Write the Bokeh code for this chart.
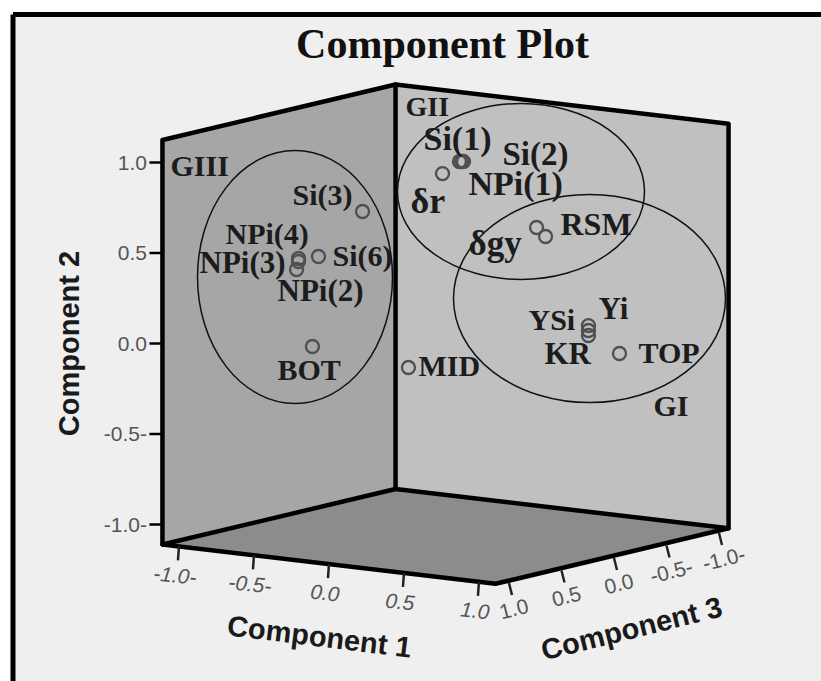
from math import radians
from bokeh.plotting import figure
from bokeh.models import Range1d, ColumnDataSource
from bokeh.core.properties import value
from bokeh.embed import file_html
from bokeh.resources import INLINE

# ---- data: component loadings
point_names = ["Si(1)", "Si(2)", "NPi(1)", "δr", "δgy", "RSM", "Yi", "YSi", "KR", "TOP",
               "MID", "BOT", "Si(3)", "Si(6)", "NPi(4)", "NPi(3)", "NPi(2)"]
comp1 = [0.023, 0.037, 0.050, -0.090, 0.397, 0.457, 0.743, 0.743, 0.743, 0.950,
         -0.177, -0.537, -0.343, -0.497, -0.630, -0.630, -0.643]
comp2 = [0.950, 0.951, 0.952, 0.872, 0.594, 0.550, 0.086, 0.059, 0.031, -0.048,
         -0.180, -0.044, 0.693, 0.457, 0.433, 0.416, 0.371]
comp3 = [-0.1, -0.1, -0.1, -0.1, -0.3, -0.3, -0.3, -0.3, -0.3, -0.3,
         0.1, 0.5, 0.3, 0.5, 0.5, 0.5, 0.5]

tick_values = [-1.0, -0.5, 0.0, 0.5, 1.0]
comp2_tick_labels = ["-1.0-", "-0.5-", "0.0", "0.5", "1.0"]
comp1_tick_labels = ["-1.0-", "-0.5-", "0.0", "0.5", "1.0"]
comp3_tick_labels = ["-1.0-", "-0.5-", "0.0", "0.5", "1.0"]

# ---- annotation text placed by hand (left edge, baseline, in page pixels)
label_text = ["GIII", "Si(3)", "NPi(4)", "NPi(3)", "Si(6)", "NPi(2)", "BOT", "GII", "Si(1)", "Si(2)",
              "NPi(1)", "δr", "δgy", "RSM", "Yi", "YSi", "KR", "TOP", "MID", "GI"]
label_x = [170, 292, 225, 199, 332, 277, 277, 405, 423, 502, 468, 410, 468, 560, 598, 528, 544, 638, 418, 653]
label_y = [175, 204, 243, 272, 265, 300, 379, 116, 148, 163, 193, 210, 253, 233, 318, 329, 363, 362, 375, 415]
label_size = ["30px", "30px", "30px", "31px", "30px", "31px", "30px", "28px", "34px", "33px",
              "34px", "36px", "35px", "32px", "31px", "30px", "31px", "30px", "30px", "30px"]

# ---- hand-drawn group ellipses
ell_x = [294.5, 520.5, 589]
ell_y = [276.5, 191, 298]
ell_w = [195, 247, 272]
ell_h = [253, 176, 208]

# ---- oblique projection of the 3D box onto the page
LIM = 1.11
TOP = 1.125


def px(c1, c3):
    return 445 + 150 * c1 - 105 * c3


def py(c1, c2, c3):
    return 335 + 17.7 * c1 + 25 * c3 - 181 * c2


def corner(c1, c2, c3):
    return px(c1, c3), py(c1, c2, c3)


p = figure(width=821, height=681, x_range=Range1d(0, 821), y_range=Range1d(681, 0),
           toolbar_location=None, output_backend="svg", min_border=0,
           x_axis_location=None, y_axis_location=None)
p.outline_line_color = None
p.grid.visible = False
p.background_fill_color = "#ffffff"
p.border_fill_color = "#ffffff"

# panel background and its black frame
p.quad(left=12, right=821, top=14, bottom=681, fill_color="#efefef", line_color=None)
p.line([12.5, 821], [14, 14], line_color="#000000", line_width=5)
p.line([12.5, 12.5], [14, 681], line_color="#000000", line_width=5)

L_bot = corner(-LIM, -LIM, LIM)
L_top = corner(-LIM, TOP, LIM)
B_bot = corner(-LIM, -LIM, -LIM)
B_top = corner(-LIM, TOP, -LIM)
R_bot = corner(LIM, -LIM, -LIM)
R_top = corner(LIM, TOP, -LIM)
F_bot = corner(LIM, -LIM, LIM)


def poly(*pts):
    return [q[0] for q in pts], [q[1] for q in pts]


x, y = poly(L_bot, L_top, B_top, B_bot)
p.patch(x, y, fill_color="#a6a6a6", line_color=None)
x, y = poly(B_bot, B_top, R_top, R_bot)
p.patch(x, y, fill_color="#c0c0c0", line_color=None)
x, y = poly(L_bot, B_bot, R_bot, F_bot)
p.patch(x, y, fill_color="#8c8c8c", line_color=None)

edges = [poly(L_top, L_bot, F_bot, R_bot, R_top, B_top, L_top),
         poly(B_top, B_bot), poly(L_bot, B_bot, R_bot)]
p.multi_line([e[0] for e in edges], [e[1] for e in edges], line_color="#000000",
             line_width=4.5, line_join="round", line_cap="round")

# ticks
y_tick_y = [py(-LIM, v, LIM) for v in tick_values]
p.segment(x0=[px(-LIM, LIM) - 13] * 5, x1=[px(-LIM, LIM)] * 5, y0=y_tick_y, y1=y_tick_y,
          line_color="#000000", line_width=2.5)
c1_x = [px(v, LIM) for v in tick_values]
c1_y = [py(v, -LIM, LIM) for v in tick_values]
p.segment(x0=c1_x, x1=[a - 1 for a in c1_x], y0=c1_y, y1=[a + 14 for a in c1_y],
          line_color="#222222", line_width=2.5)
c3_x = [px(LIM, v) for v in tick_values]
c3_y = [py(LIM, -LIM, v) for v in tick_values]
p.segment(x0=[a + 2 for a in c3_x], x1=[a + 5 for a in c3_x], y0=[a + 2 for a in c3_y],
          y1=[a + 14 for a in c3_y], line_color="#222222", line_width=2.5)

# tick labels
p.text(x=[146.5] * 5, y=y_tick_y, text=comp2_tick_labels, text_align="right", text_baseline="middle",
       text_font=value("Liberation Sans"), text_font_size="21px", text_color="#555555")
p.text(x=[a - 4 for a in c1_x], y=[a + 29 for a in c1_y], text=comp1_tick_labels, text_align="center",
       text_baseline="middle", angle=radians(-6), text_font=value("Liberation Sans"),
       text_font_size="21px", text_font_style="italic", text_color="#555555")
p.text(x=[a + 7 for a in c3_x], y=[a + 28 for a in c3_y], text=comp3_tick_labels, text_align="center",
       text_baseline="middle", angle=radians(14), text_font=value("Liberation Sans"),
       text_font_size="21px", text_color="#555555")

# axis titles
p.text(x=[68], y=[343], text=["Component 2"], angle=radians(90), text_align="center", text_baseline="middle",
       text_font=value("Liberation Sans"), text_font_size="29px", text_font_style="bold", text_color="#1a1a1a")
p.text(x=[319], y=[636], text=["Component 1"], angle=radians(-7), text_align="center", text_baseline="middle",
       text_font=value("Liberation Sans"), text_font_size="29px", text_font_style="bold", text_color="#1a1a1a")
p.text(x=[631], y=[628], text=["Component 3"], angle=radians(14), text_align="center", text_baseline="middle",
       text_font=value("Liberation Sans"), text_font_size="29px", text_font_style="bold", text_color="#1a1a1a")

# title
p.text(x=[442], y=[57], y_offset=-14, text=["Component Plot"], text_align="center", text_baseline="alphabetic",
       text_font=value("Liberation Serif"), text_font_size="42px", text_font_style="bold", text_color="#111111")

# group ellipses
p.ellipse(x=ell_x, y=ell_y, width=ell_w, height=ell_h, fill_color=None, line_color="#111111", line_width=1.5)

# points
p.scatter(x=[px(a, c) for a, c in zip(comp1, comp3)],
          y=[py(a, b, c) for a, b, c in zip(comp1, comp2, comp3)],
          size=13, marker="circle", fill_color=None, line_color="#505050", line_width=2.4)

# point and group labels
label_src = ColumnDataSource(dict(x=label_x, y=label_y, t=label_text, s=label_size))
p.text(x="x", y="y", y_offset=-10, text="t", source=label_src, text_align="left", text_baseline="alphabetic",
       text_font=value("Liberation Serif"), text_font_size="s", text_font_style="bold", text_color="#1c1c1c")

open("out.html", "w").write(file_html(p, INLINE))
